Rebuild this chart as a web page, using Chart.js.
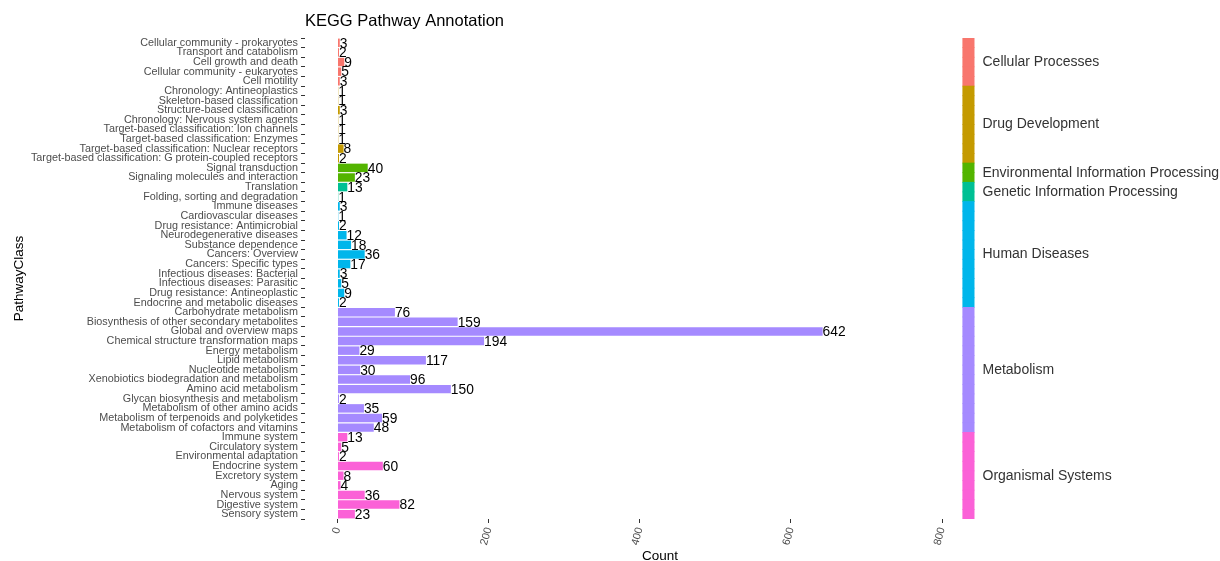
<!DOCTYPE html>
<html>
<head>
<meta charset="utf-8">
<script src="https://cdn.jsdelivr.net/npm/chart.js@4.4.1/dist/chart.umd.min.js"></script>
<style>
  html, body { margin: 0; padding: 0; background: #ffffff; }
  #wrap { width: 1220px; height: 561px; position: relative; }
</style>
</head>
<body>
<div id="wrap"><canvas id="c" width="1220" height="561"></canvas></div>
<script>
// KEGG pathway classes, listed top to bottom
const categories = [
  "Cellular community - prokaryotes", "Transport and catabolism", "Cell growth and death",
  "Cellular community - eukaryotes", "Cell motility",
  "Chronology: Antineoplastics", "Skeleton-based classification", "Structure-based classification",
  "Chronology: Nervous system agents", "Target-based classification: Ion channels",
  "Target-based classification: Enzymes", "Target-based classification: Nuclear receptors",
  "Target-based classification: G protein-coupled receptors",
  "Signal transduction", "Signaling molecules and interaction",
  "Translation", "Folding, sorting and degradation",
  "Immune diseases", "Cardiovascular diseases", "Drug resistance: Antimicrobial",
  "Neurodegenerative diseases", "Substance dependence", "Cancers: Overview",
  "Cancers: Specific types", "Infectious diseases: Bacterial", "Infectious diseases: Parasitic",
  "Drug resistance: Antineoplastic", "Endocrine and metabolic diseases",
  "Carbohydrate metabolism", "Biosynthesis of other secondary metabolites", "Global and overview maps",
  "Chemical structure transformation maps", "Energy metabolism", "Lipid metabolism",
  "Nucleotide metabolism", "Xenobiotics biodegradation and metabolism", "Amino acid metabolism",
  "Glycan biosynthesis and metabolism", "Metabolism of other amino acids",
  "Metabolism of terpenoids and polyketides", "Metabolism of cofactors and vitamins",
  "Immune system", "Circulatory system", "Environmental adaptation", "Endocrine system",
  "Excretory system", "Aging", "Nervous system", "Digestive system", "Sensory system"
];

// gene counts per pathway class
const counts = [
  3, 2, 9, 5, 3,
  1, 1, 3, 1, 1, 1, 8, 2,
  40, 23,
  13, 1,
  3, 1, 2, 12, 18, 36, 17, 3, 5, 9, 2,
  76, 159, 642, 194, 29, 117, 30, 96, 150, 2, 35, 59, 48,
  13, 5, 2, 60, 8, 4, 36, 82, 23
];

// top-level KEGG class of each pathway class
const classNames = [
  "Cellular Processes", "Drug Development", "Environmental Information Processing",
  "Genetic Information Processing", "Human Diseases", "Metabolism", "Organismal Systems"
];
const classColors = ["#F8766D", "#C49A00", "#53B400", "#00C094", "#00B6EB", "#A58AFF", "#FB61D7"];
const classOf = [
  0, 0, 0, 0, 0,
  1, 1, 1, 1, 1, 1, 1, 1,
  2, 2,
  3, 3,
  4, 4, 4, 4, 4, 4, 4, 4, 4, 4, 4,
  5, 5, 5, 5, 5, 5, 5, 5, 5, 5, 5, 5, 5,
  6, 6, 6, 6, 6, 6, 6, 6, 6
];

const xTickValues = [0, 200, 400, 600, 800];

const FONT = "'Liberation Sans', Arial, sans-serif";
const X_MIN = -43;
const X_MAX = 896.6;
const STRIP = [827, 843];   // colour key strip, placed in x units at the right of the panel

const barColors = classOf.map(k => classColors[k]);

// value labels at the end of each bar
const valueLabels = {
  id: 'valueLabels',
  afterDatasetsDraw(chart) {
    const ctx = chart.ctx;
    const meta = chart.getDatasetMeta(0);
    ctx.save();
    ctx.font = "13.8px " + FONT;
    ctx.fillStyle = "#000000";
    ctx.textAlign = "left";
    ctx.textBaseline = "middle";
    meta.data.forEach((el, i) => {
      ctx.fillText(String(counts[i]), el.x, el.y + 1);
    });
    ctx.restore();
  }
};

// class names beside the colour key, plus the plot title
const keyAndTitle = {
  id: 'keyAndTitle',
  afterDraw(chart) {
    const ctx = chart.ctx;
    const ys = chart.scales.y;
    const xs = chart.scales.x;
    const textX = xs.getPixelForValue(STRIP[1]) + 8;
    ctx.save();
    ctx.font = "14px " + FONT;
    ctx.fillStyle = "#333333";
    ctx.textAlign = "left";
    ctx.textBaseline = "middle";
    classNames.forEach((name, k) => {
      const idx = classOf.map((c, i) => c === k ? i : -1).filter(i => i >= 0);
      const y0 = ys.getPixelForValue(idx[0]);
      const y1 = ys.getPixelForValue(idx[idx.length - 1]);
      ctx.fillText(name, textX, (y0 + y1) / 2);
    });
    ctx.font = "16.5px " + FONT;
    ctx.fillStyle = "#000000";
    ctx.fillText("KEGG Pathway Annotation", chart.chartArea.left, 21);
    ctx.restore();
  }
};

new Chart(document.getElementById('c'), {
  type: 'bar',
  data: {
    labels: categories,
    datasets: [
      {
        label: 'Count',
        data: counts,
        backgroundColor: barColors,
        borderWidth: 0,
        barPercentage: 0.88,
        categoryPercentage: 1.0,
        grouped: false
      },
      {
        label: 'Class',
        data: categories.map(() => STRIP.slice()),
        backgroundColor: barColors,
        borderWidth: 0,
        barPercentage: 1.08,
        categoryPercentage: 1.0,
        grouped: false
      }
    ]
  },
  options: {
    indexAxis: 'y',
    responsive: false,
    devicePixelRatio: 1,
    animation: false,
    layout: { padding: { left: 0, right: 205, top: 38, bottom: 0 } },
    plugins: {
      legend: { display: false },
      tooltip: { enabled: false },
      title: { display: false }
    },
    scales: {
      x: {
        type: 'linear',
        position: 'bottom',
        min: X_MIN,
        max: X_MAX,
        border: { display: false },
        grid: { drawOnChartArea: false, drawTicks: true, tickLength: 4, tickColor: '#333333', tickWidth: 1 },
        ticks: {
          stepSize: 200,
          includeBounds: false,
          minRotation: 75,
          maxRotation: 75,
          color: '#4D4D4D',
          padding: 3,
          font: { family: FONT, size: 10.8 }
        },
        afterBuildTicks(scale) {
          scale.ticks = xTickValues.map(v => ({ value: v }));
        },
        title: {
          display: true,
          text: 'Count',
          color: '#000000',
          padding: { top: 0, bottom: -3.5 },
          font: { family: FONT, size: 13.5 }
        },
        afterFit(scale) { scale.height = 42; }
      },
      y: {
        type: 'category',
        offset: true,
        border: { display: false },
        grid: { drawOnChartArea: false, drawTicks: true, tickLength: 4, tickColor: '#333333', tickWidth: 1 },
        ticks: {
          autoSkip: false,
          color: '#4D4D4D',
          padding: 3,
          font: { family: FONT, size: 10.8 }
        },
        title: {
          display: true,
          text: 'PathwayClass',
          color: '#000000',
          padding: { top: 11, bottom: 0 },
          font: { family: FONT, size: 13.5 }
        },
        afterFit(scale) { scale.width = 305; }
      }
    }
  },
  plugins: [valueLabels, keyAndTitle]
});
</script>
</body>
</html>
